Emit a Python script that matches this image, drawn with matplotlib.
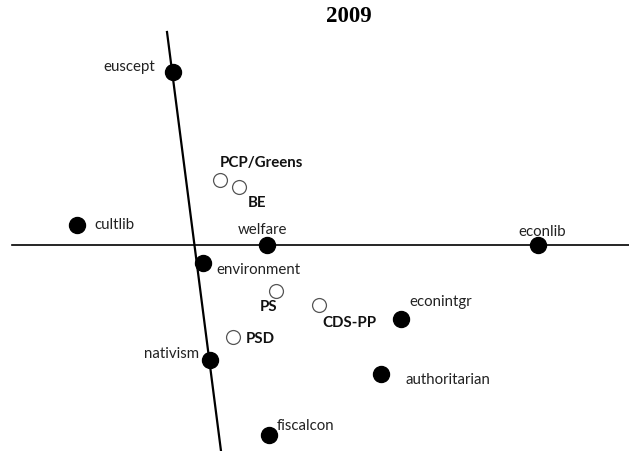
import matplotlib.pyplot as plt

# issue dimensions (filled) and parties (open), positions
issues = ["euscept", "cultlib", "welfare", "econlib", "environment",
          "econintgr", "nativism", "authoritarian", "fiscalcon"]
issue_x = [173, 77, 267, 538, 203, 401, 210, 381, 269]
issue_y = [73, 226, 246, 246, 264, 320, 361, 375, 436]
issue_lx = [155, 94, 238, 518, 216, 409, 199, 405, 277]
issue_ly = [67, 225, 230, 232, 270, 302, 354, 380, 426]
issue_ha = ["right", "left", "left", "left", "left", "left", "right", "left", "left"]

parties = ["PCP/Greens", "BE", "PS", "CDS-PP", "PSD"]
party_x = [220, 239, 276, 319, 233]
party_y = [181, 188, 292, 306, 338]
party_lx = [220, 248, 260, 322, 246]
party_ly = [163, 203, 307, 323, 339]

# the two axes lines
hline_x = [12, 629]
hline_y = [246, 246]
vline_x = [167, 221]
vline_y = [33, 452]

fig = plt.figure(figsize=(6.29, 4.52), dpi=100)
ax = fig.add_axes([0, 0, 1, 1])
ax.set_xlim(0, 629)
ax.set_ylim(452, 0)
ax.axis("off")

ax.plot(hline_x, hline_y, color="black", lw=1.2)
ax.plot(vline_x, vline_y, color="black", lw=1.6)

ax.plot(issue_x, issue_y, "o", color="black", ms=11.5, ls="none")
ax.plot(party_x, party_y, "o", mfc="white", mec="#555555", mew=0.9, ms=10, ls="none")

for name, x, y, ha in zip(issues, issue_lx, issue_ly, issue_ha):
    ax.text(x, y, name, ha=ha, va="center", fontsize=10.8, family="Lato", color="#222222")

for name, x, y in zip(parties, party_lx, party_ly):
    ax.text(x, y, name, ha="left", va="center", fontsize=10.8, family="Lato",
            fontweight="bold", color="#111111")

ax.text(349, 16, "2009", ha="center", va="center", fontsize=16.5,
        family="Liberation Serif", fontweight="bold")

fig.savefig("out.png", dpi=100)
